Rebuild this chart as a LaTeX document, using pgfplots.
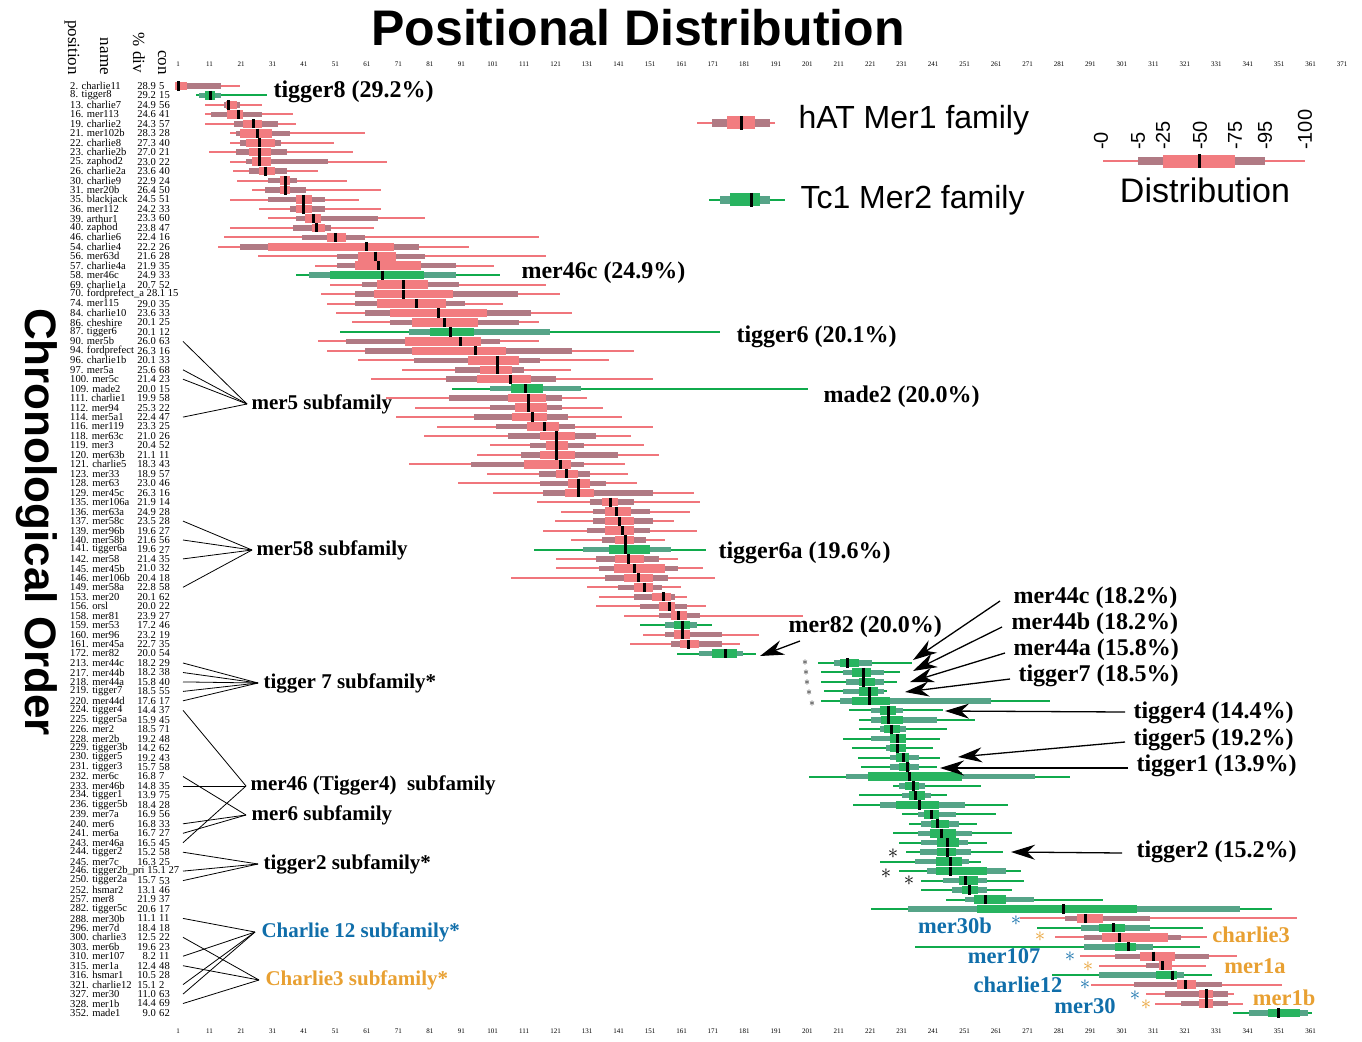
\documentclass[border=0pt]{standalone}
\usepackage{pgfplots}
\pgfplotsset{compat=1.18}
\usepackage{pgfplotstable}
\usepackage{fontspec}
\setmainfont{Liberation Serif}
\newfontfamily\hv{Liberation Sans}
\usetikzlibrary{arrows.meta}

\definecolor{redline}{RGB}{240,118,124}
\definecolor{redbar}{RGB}{176,122,132}
\definecolor{redbox}{RGB}{242,124,128}
\definecolor{grnline}{RGB}{16,170,76}
\definecolor{grnbar}{RGB}{86,164,136}
\definecolor{grnbox}{RGB}{40,180,96}
\definecolor{subblue}{RGB}{16,110,170}
\definecolor{suborange}{RGB}{232,160,50}

% hAT Mer1 family: row, whisker min, 5%, 25%, median, 75%, 95%, whisker max
\pgfplotstableread{
row wmin p5 p25 med p75 p95 wmax
1 0 0 0 1 3.7 14.5 20.7
3 9.5 15.6 16.2 17.1 19.6 20.7 27.6
4 9.5 11.4 16.5 20.1 21.5 27.6 37.4
5 9.5 18.8 21.6 25.0 27.7 32.6 38.4
6 17.6 19.4 20.8 26.1 30.8 36.5 60.3
7 17.6 20.8 22.6 27.0 31.7 33.6 50.5
8 10.9 19.4 23.5 27.0 30.4 35.5 56.5
9 17.6 22.6 24.5 27.0 30.4 48.5 67.3
10 18.5 23.5 26.8 28.9 31.8 35.5 45.4
11 19.7 29.6 33.4 35.0 36.6 38.7 54.6
12 24.5 28.6 33.4 35.0 36.6 41.5 65.4
13 17.6 29.6 38.5 40.9 43.5 47.6 58.4
14 26.7 36.6 38.5 40.9 43.5 47.6 65.4
15 29.6 38.5 41.3 44.0 46.3 64.4 79.5
16 17.6 37.5 43.5 45.0 47.6 49.5 63.2
17 15.6 40.4 48.3 50.9 54.3 60.3 115.8
18 13.7 20.7 29.6 60.8 69.5 77.5 93.4
19 26.5 51.5 58.2 63.8 70.2 79.4 117.8
20 44.5 51.5 57.2 64.8 78.1 89.2 101.3
22 49.3 59.4 64.2 72.7 80.3 90.2 117.8
23 46.4 57.2 63.3 72.7 88.3 108.9 122.4
24 48.3 57.2 64.2 76.7 86.0 92.1 104.2
25 51.2 60.4 68.3 83.6 99.1 113.1 126.2
26 56.3 68.3 75.3 85.6 96.2 109.2 115.8
28 45.5 54.4 73.1 90.6 97.2 103.2 115.8
29 48.3 60.5 75.3 95.6 105.1 126.1 145.8
30 58.3 76.0 93.1 102.4 109.2 115.9 137.9
31 72.2 89.0 96.9 102.4 107.0 110.8 125.8
32 62.4 86.1 96.0 106.5 113.1 121.0 151.8
34 67.1 87.1 105.8 112.4 117.8 122.9 130.9
35 76.3 100.1 108.1 112.4 118.1 122.9 135.9
36 70.2 95.0 107.1 113.5 118.1 124.8 142.0
37 83.3 102.0 111.9 117.5 122.0 127.0 151.8
38 79.1 105.8 116.0 121.3 127.0 133.7 144.8
39 100.1 112.8 117.9 121.3 124.8 129.9 149.0
40 96.0 110.0 116.0 121.3 127.0 140.7 153.8
41 74.4 94.1 110.9 122.4 125.8 129.9 142.9
42 99.3 115.7 121.1 124.4 128.0 131.8 143.9
43 90.1 116.0 124.9 128.4 131.8 136.9 146.8
44 101.2 117.0 124.0 128.4 133.1 151.8 164.9
45 115.1 131.9 135.7 138.3 140.7 145.8 166.8
46 122.7 132.9 136.7 140.3 144.9 150.9 163.6
47 120.8 132.9 136.7 141.2 145.8 151.8 158.5
48 117.0 131.0 136.7 142.3 145.8 150.9 165.8
49 125.9 135.7 139.9 143.3 145.8 149.6 155.7
51 121.1 133.8 139.9 144.2 149.0 153.8 159.8
52 121.1 134.8 139.5 146.2 155.7 159.8 167.7
53 106.8 136.7 142.7 147.3 151.8 156.6 171.6
54 131.0 140.8 145.9 149.2 151.8 154.7 160.7
55 134.8 145.9 151.6 155.2 157.6 158.8 162.7
56 133.8 147.8 153.8 157.1 158.8 162.7 168.7
57 142.7 153.8 157.7 160.2 162.7 166.8 199.5
59 148.8 155.8 158.6 161.2 163.6 173.8 185.5
60 144.6 157.7 160.5 163.2 166.5 173.8 179.5
89 268.6 282.9 286.7 289.4 294.9 309.9 356.5
91 279.7 288.9 294.7 300.2 315.5 319.7 327.9
93 287.7 298.8 306.7 311.1 317.9 328.6 337.5
94 293.6 308.6 312.9 314.0 316.8 316.8 327.6
96 291.1 304.8 318.6 321.1 324.5 332.7 351.8
97 308.6 314.7 325.6 327.9 329.8 334.6 336.6
98 311.5 319.7 325.6 327.9 329.8 334.6 339.6
}\redtab

% Tc1 Mer2 family
\pgfplotstableread{
row wmin p5 p25 med p75 p95 wmax
2 6.7 7.7 9.5 11.2 12.7 14.6 29.3
21 38.5 42.6 49.3 65.8 79.1 89.2 103.2
27 52.4 74.4 81.1 87.6 94.9 119.1 173.2
33 88.0 100.1 106.8 111.5 116.9 129.0 201.2
50 114.1 129.7 138.0 143.3 150.9 157.6 168.7
58 147.8 155.8 158.6 161.2 163.6 165.8 170.6
61 159.6 166.6 170.7 175.0 178.5 180.4 184.6
62 204.4 209.5 211.4 213.8 217.4 221.5 234.2
63 205.3 212.3 215.2 218.7 221.1 225.3 230.4
64 205.3 213.3 217.4 218.7 222.4 225.3 229.4
65 206.3 212.3 217.4 220.6 223.4 225.4 226.3
66 205.3 211.4 215.2 220.6 227.2 259.3 278.1
67 214.2 221.2 224.1 226.7 229.1 231.3 244.2
68 217.4 221.2 224.4 226.7 231.3 242.1 254.3
69 217.4 224.1 225.4 227.8 230.4 232.3 245.3
70 212.3 221.2 227.3 229.7 232.3 232.3 243.2
71 215.2 226.0 227.3 229.7 232.3 232.3 241.0
72 217.1 227.2 229.1 231.6 233.4 236.4 243.2
73 218.1 227.2 230.0 232.7 233.5 236.4 242.1
74 201.5 213.3 220.3 233.5 250.2 273.4 284.5
75 228.2 230.1 232.0 234.6 236.4 238.3 256.1
76 217.4 231.1 233.3 235.5 238.3 240.2 245.3
77 215.4 224.1 229.2 236.6 242.9 251.1 264.9
78 231.1 236.1 238.1 240.6 242.9 248.2 260.9
79 233.4 237.1 240.3 242.5 246.1 249.1 255.0
80 228.1 236.1 240.0 243.6 248.2 253.2 266.0
81 230.1 237.1 242.1 245.5 249.1 252.0 258.0
82 232.4 236.8 242.1 245.5 248.2 252.9 263.1
83 224.1 235.2 241.9 246.6 250.1 252.3 256.1
84 230.1 238.9 241.9 246.6 258.0 264.0 268.8
85 237.1 244.0 249.1 251.3 255.2 258.0 270.0
86 237.1 246.9 250.1 252.5 255.2 258.0 266.0
87 245.1 251.1 254.1 257.6 264.0 273.0 294.9
88 221.2 232.9 254.8 282.4 305.7 338.5 348.7
90 274.1 288.0 293.7 298.3 302.0 309.9 326.7
92 235.3 288.9 298.8 303.1 305.4 310.8 325.7
95 278.8 293.6 311.8 317.0 318.6 320.7 329.5
99 336.4 341.4 347.3 350.9 357.6 360.2 361.3
}\grntab

% legend glyphs
\pgfplotstableread{
row wmin p5 p25 med p75 p95 wmax
4.91 165.9 170.7 175.5 180.2 184.4 189.1 190.7
8.93 295.0 306.1 314.0 325.8 336.9 346.5 359.2
}\redkey
\pgfplotstableread{
row wmin p5 p25 med p75 p95 wmax
13.05 169.7 173.2 176.4 183.4 185.9 189.1 193.9
}\grnkey

% #1 table, #2 line col, #3 bar col, #4 box col, #5/#6/#7 widths, #8 median half height
\newcommand{\famplot}[8]{%
\addplot[draw=none,mark=none,forget plot,error bars/.cd,x dir=both,x explicit,error mark=none,
  error bar style={draw=#2,line width=#5}]
  table[x=med,y=row,x error plus expr=\thisrow{wmax}-\thisrow{med},x error minus expr=\thisrow{med}-\thisrow{wmin}]{#1};
\addplot[draw=none,mark=none,forget plot,error bars/.cd,x dir=both,x explicit,error mark=none,
  error bar style={draw=#3,line width=#6}]
  table[x=med,y=row,x error plus expr=\thisrow{p95}-\thisrow{med},x error minus expr=\thisrow{med}-\thisrow{p5}]{#1};
\addplot[draw=none,mark=none,forget plot,error bars/.cd,x dir=both,x explicit,error mark=none,
  error bar style={draw=#4,line width=#7}]
  table[x=med,y=row,x error plus expr=\thisrow{p75}-\thisrow{med},x error minus expr=\thisrow{med}-\thisrow{p25}]{#1};
\addplot[only marks,mark=|,mark size=#8,mark options={line width=3pt,draw=black},forget plot]
  table[x=med,y=row]{#1};
}

\newcommand{\annf}{\bfseries\fontsize{24}{24}\selectfont}
\newcommand{\labf}{\bfseries\fontsize{22.5}{22.5}\selectfont}
\newcommand{\subf}{\bfseries\fontsize{21}{21}\selectfont}
\newcommand{\rowfont}{\fontsize{10.6}{10.6}\selectfont}
\newcommand{\astk}[4][22]{\node[#2,inner sep=0pt] at (#3,#4) {\fontsize{#1}{#1}\selectfont$\ast$};}

\begin{document}
\begin{tikzpicture}
\useasboundingbox (0pt,0pt) rectangle (1362pt,-1041pt);
\pgfplotsset{chartaxis/.style={at={(160pt,-70pt)},anchor=north west,scale only axis,
  width=1190pt,height=955pt,xmin=-4.77,xmax=373.5,ymin=-0.691,ymax=100.27,y dir=reverse,
  axis line style={draw=none},ytick=\empty,tick style={draw=none},major tick length=0pt,
  xticklabel style={font=\fontsize{7}{8}\selectfont},
  /pgf/number format/assume math mode=true,clip=false}}
\begin{axis}[chartaxis,xtick={1,11,...,371},xticklabel pos=right,xtick pos=right]
\famplot{\redtab}{redline}{redbar}{redbox}{2pt}{5.5pt}{8.5pt}{4.6pt}
\famplot{\grntab}{grnline}{grnbar}{grnbox}{2pt}{5.5pt}{8.5pt}{4.6pt}
\famplot{\redkey}{redline}{redbar}{redbox}{2.5pt}{8pt}{13pt}{7pt}
\famplot{\grnkey}{grnline}{grnbar}{grnbox}{2.5pt}{8pt}{13pt}{7pt}
\end{axis}
\begin{axis}[chartaxis,xtick={1,11,...,361},xticklabel pos=left,xtick pos=left]
\addplot[draw=none,mark=none] coordinates {(1,1)};
\end{axis}

\begin{scope}[x=1pt,y=-1pt]
% title and axis titles
\node[font=\hv\bfseries\fontsize{50}{50}\selectfont] at (638,28) {Positional Distribution};
\node[rotate=-90,font=\hv\bfseries\fontsize{44}{44}\selectfont] at (37,522) {Chronological Order};
\node[rotate=-90,anchor=east,inner sep=0pt,font=\fontsize{17}{17}\selectfont] at (72,75) {position};
\node[rotate=-90,anchor=east,inner sep=0pt,font=\fontsize{17}{17}\selectfont] at (104,75) {name};
\node[rotate=-90,anchor=east,inner sep=0pt,font=\fontsize{17}{17}\selectfont] at (139,73) {\% div};
\node[rotate=-90,anchor=east,inner sep=0pt,font=\fontsize{17}{17}\selectfont] at (162,75) {con};

% row labels
\foreach \r/\nm/\dv/\cn in {1/2. charlie11/28.9/5, 2/8. tigger8/29.2/15, 3/13. charlie7/24.9/56,
 4/16. mer113/24.6/41, 5/19. charlie2/24.3/57, 6/21. mer102b/28.3/28, 7/22. charlie8/27.3/40,
 8/23. charlie2b/27.0/21, 9/25. zaphod2/23.0/22, 10/26. charlie2a/23.6/40, 11/30. charlie9/22.9/24,
 12/31. mer20b/26.4/50, 13/35. blackjack/24.5/51, 14/36. mer112/24.2/33, 15/39. arthur1/23.3/60,
 16/40. zaphod/23.8/47, 17/46. charlie6/22.4/16, 18/54. charlie4/22.2/26, 19/56. mer63d/21.6/28,
 20/57. charlie4a/21.9/35, 21/58. mer46c/24.9/33, 22/69. charlie1a/20.7/52,
 23/70. fordprefect\_a 28.1 15//, 24/74. mer115/29.0/35, 25/84. charlie10/23.6/33,
 26/86. cheshire/20.1/25, 27/87. tigger6/20.1/12, 28/90. mer5b/26.0/63, 29/94. fordprefect/26.3/16,
 30/96. charlie1b/20.1/33, 31/97. mer5a/25.6/68, 32/100. mer5c/21.4/23, 33/109. made2/20.0/15,
 34/111. charlie1/19.9/58, 35/112. mer94/25.3/22, 36/114. mer5a1/22.4/47, 37/116. mer119/23.3/25,
 38/118. mer63c/21.0/26, 39/119. mer3/20.4/52, 40/120. mer63b/21.1/11, 41/121. charlie5/18.3/43,
 42/123. mer33/18.9/57, 43/128. mer63/23.0/46, 44/129. mer45c/26.3/16, 45/135. mer106a/21.9/14,
 46/136. mer63a/24.9/28, 47/137. mer58c/23.5/28, 48/139. mer96b/19.6/27, 49/140. mer58b/21.6/56,
 50/141. tigger6a/19.6/27, 51/142. mer58/21.4/35, 52/145. mer45b/21.0/32, 53/146. mer106b/20.4/18,
 54/149. mer58a/22.8/58, 55/153. mer20/20.1/62, 56/156. orsl/20.0/22, 57/158. mer81/23.9/27,
 58/159. mer53/17.2/46, 59/160. mer96/23.2/19, 60/161. mer45a/22.7/35, 61/172. mer82/20.0/54,
 62/213. mer44c/18.2/29, 63/217. mer44b/18.2/38, 64/218. mer44a/15.8/40, 65/219. tigger7/18.5/55,
 66/220. mer44d/17.6/17, 67/224. tigger4/14.4/37, 68/225. tigger5a/15.9/45, 69/226. mer2/18.5/71,
 70/228. mer2b/19.2/48, 71/229. tigger3b/14.2/62, 72/230. tigger5/19.2/43, 73/231. tigger3/15.7/58,
 74/232. mer6c/16.8/7, 75/233. mer46b/14.8/35, 76/234. tigger1/13.9/75, 77/236. tigger5b/18.4/28,
 78/239. mer7a/16.9/56, 79/240. mer6/16.8/33, 80/241. mer6a/16.7/27, 81/243. mer46a/16.5/45,
 82/244. tigger2/15.2/58, 83/245. mer7c/16.3/25, 84/246. tigger2b\_pri 15.1 27//,
 85/250. tigger2a/15.7/53, 86/252. hsmar2/13.1/46, 87/257. mer8/21.9/37, 88/282. tigger5c/20.6/17,
 89/288. mer30b/11.1/11, 90/296. mer7d/18.4/18, 91/300. charlie3/12.5/22, 92/303. mer6b/19.6/23,
 93/310. mer107/8.2/11, 94/315. mer1a/12.4/48, 95/316. hsmar1/10.5/28, 96/321. charlie12/15.1/2,
 97/327. mer30/11.0/63, 98/328. mer1b/14.4/69, 99/352. made1/9.0/62}{
 \pgfmathsetmacro\py{76.54+9.459*\r}
 \node[anchor=west,inner sep=0pt,font=\rowfont] at (70,\py) {\nm};
 \node[anchor=east,inner sep=0pt,font=\rowfont] at (156,\py) {\dv};
 \node[anchor=west,inner sep=0pt,font=\rowfont] at (159,\py) {\cn};
}

% legend texts
\node[anchor=west,font=\hv\fontsize{32}{32}\selectfont] at (795,120) {hAT Mer1 family};
\node[anchor=west,font=\hv\fontsize{32}{32}\selectfont] at (797,200) {Tc1 Mer2 family};
\node[font=\hv\fontsize{34}{34}\selectfont] at (1205,190) {Distribution};
\foreach \xx/\lab in {1101/-0,1138/-5,1163/-25,1200/-50,1235/-75,1265/-95,1305/-100}{
 \node[rotate=90,anchor=west,inner sep=0pt,font=\hv\fontsize{20}{20}\selectfont] at (\xx,150) {\lab};
}

% annotations
\node[anchor=west,font=\annf] at (270,92) {tigger8 (29.2\%)};
\node[anchor=west,font=\annf] at (518,273) {mer46c (24.9\%)};
\node[anchor=west,font=\annf] at (733,337) {tigger6 (20.1\%)};
\node[anchor=west,font=\annf] at (820,397) {made2 (20.0\%)};
\node[anchor=west,font=\annf] at (715,553) {tigger6a (19.6\%)};
\node[anchor=west,font=\annf] at (785,627) {mer82 (20.0\%)};
\node[anchor=west,font=\annf] at (1010,598) {mer44c (18.2\%)};
\node[anchor=west,font=\annf] at (1008,624) {mer44b (18.2\%)};
\node[anchor=west,font=\annf] at (1010,650) {mer44a (15.8\%)};
\node[anchor=west,font=\annf] at (1015,676) {tigger7 (18.5\%)};
\node[anchor=west,font=\annf] at (1130,713) {tigger4 (14.4\%)};
\node[anchor=west,font=\annf] at (1130,740) {tigger5 (19.2\%)};
\node[anchor=west,font=\annf] at (1133,766) {tigger1 (13.9\%)};
\node[anchor=west,font=\annf] at (1133,852) {tigger2 (15.2\%)};

\begin{scope}[line width=1.3pt,-{Stealth[length=24pt,width=15pt]}]
\draw (800,641) -- (760,656);
\draw (1000,601) -- (913,660);
\draw (1002,627) -- (913,671);
\draw (1005,653) -- (910,682);
\draw (1010,679) -- (905,692);
\draw (1125,712) -- (945,711);
\draw (1125,742) -- (958,757);
\draw (1128,768) -- (940,768);
\draw (1122,853) -- (1011,852);
\end{scope}

% subfamily labels
\node[anchor=west,font=\subf] at (248,404) {mer5 subfamily};
\node[anchor=west,font=\subf] at (253,550) {mer58 subfamily};
\node[anchor=west,font=\subf] at (260,683) {tigger 7 subfamily*};
\node[anchor=west,font=\subf] at (247,785) {mer46 (Tigger4)\ \ subfamily};
\node[anchor=west,font=\subf] at (248,815) {mer6 subfamily};
\node[anchor=west,font=\subf] at (260,864) {tigger2 subfamily*};
\node[anchor=west,font=\subf,text=subblue] at (258,932) {Charlie 12 subfamily*};
\node[anchor=west,font=\subf,text=suborange] at (262,980) {Charlie3 subfamily*};

\begin{scope}[line width=0.8pt]
\foreach \yy in {341.4,369.8,379.2,417.1}{\draw (183,\yy) -- (247,404);}
\foreach \yy in {521.1,540.0,558.9,587.3}{\draw (183,\yy) -- (252,550);}
\foreach \yy in {663.0,672.5,681.9,691.4,700.8}{\draw (183,\yy) -- (258,683);}
\foreach \yy in {710.3,786.0,842.7}{\draw (183,\yy) -- (246,786);}
\foreach \yy in {776.5,823.8,833.3}{\draw (183,\yy) -- (246,815);}
\foreach \yy in {852.2,871.1,880.6}{\draw (183,\yy) -- (258,864);}
\foreach \yy in {918.4,956.2,984.6,994.1}{\draw (183,\yy) -- (255,932);}
\foreach \yy in {937.3,965.7,1003.5}{\draw (183,\yy) -- (259,980);}
\end{scope}

% right-bottom labels
\node[font=\labf,text=subblue] at (955,926) {mer30b};
\node[font=\labf,text=suborange] at (1251,935) {charlie3};
\node[font=\labf,text=subblue] at (1004,956) {mer107};
\node[font=\labf,text=suborange] at (1255,966) {mer1a};
\node[font=\labf,text=subblue] at (1018,985) {charlie12};
\node[font=\labf,text=subblue] at (1085,1006) {mer30};
\node[font=\labf,text=suborange] at (1284,998) {mer1b};

% asterisks
\astk[13]{black}{805}{663}\astk[13]{black}{806}{673}\astk[13]{black}{807}{683}
\astk[13]{black}{809}{693}\astk[13]{black}{812}{703.5}
\astk{black}{893}{854}\astk{black}{886}{874}\astk{black}{909}{881}
\astk{subblue}{1016}{921}\astk{subblue}{1070}{957}\astk{subblue}{1085}{985}\astk{subblue}{1135}{996}
\astk{suborange}{1040}{937}\astk{suborange}{1088}{967}\astk{suborange}{1146}{1005}
\end{scope}
\end{tikzpicture}
\end{document}
